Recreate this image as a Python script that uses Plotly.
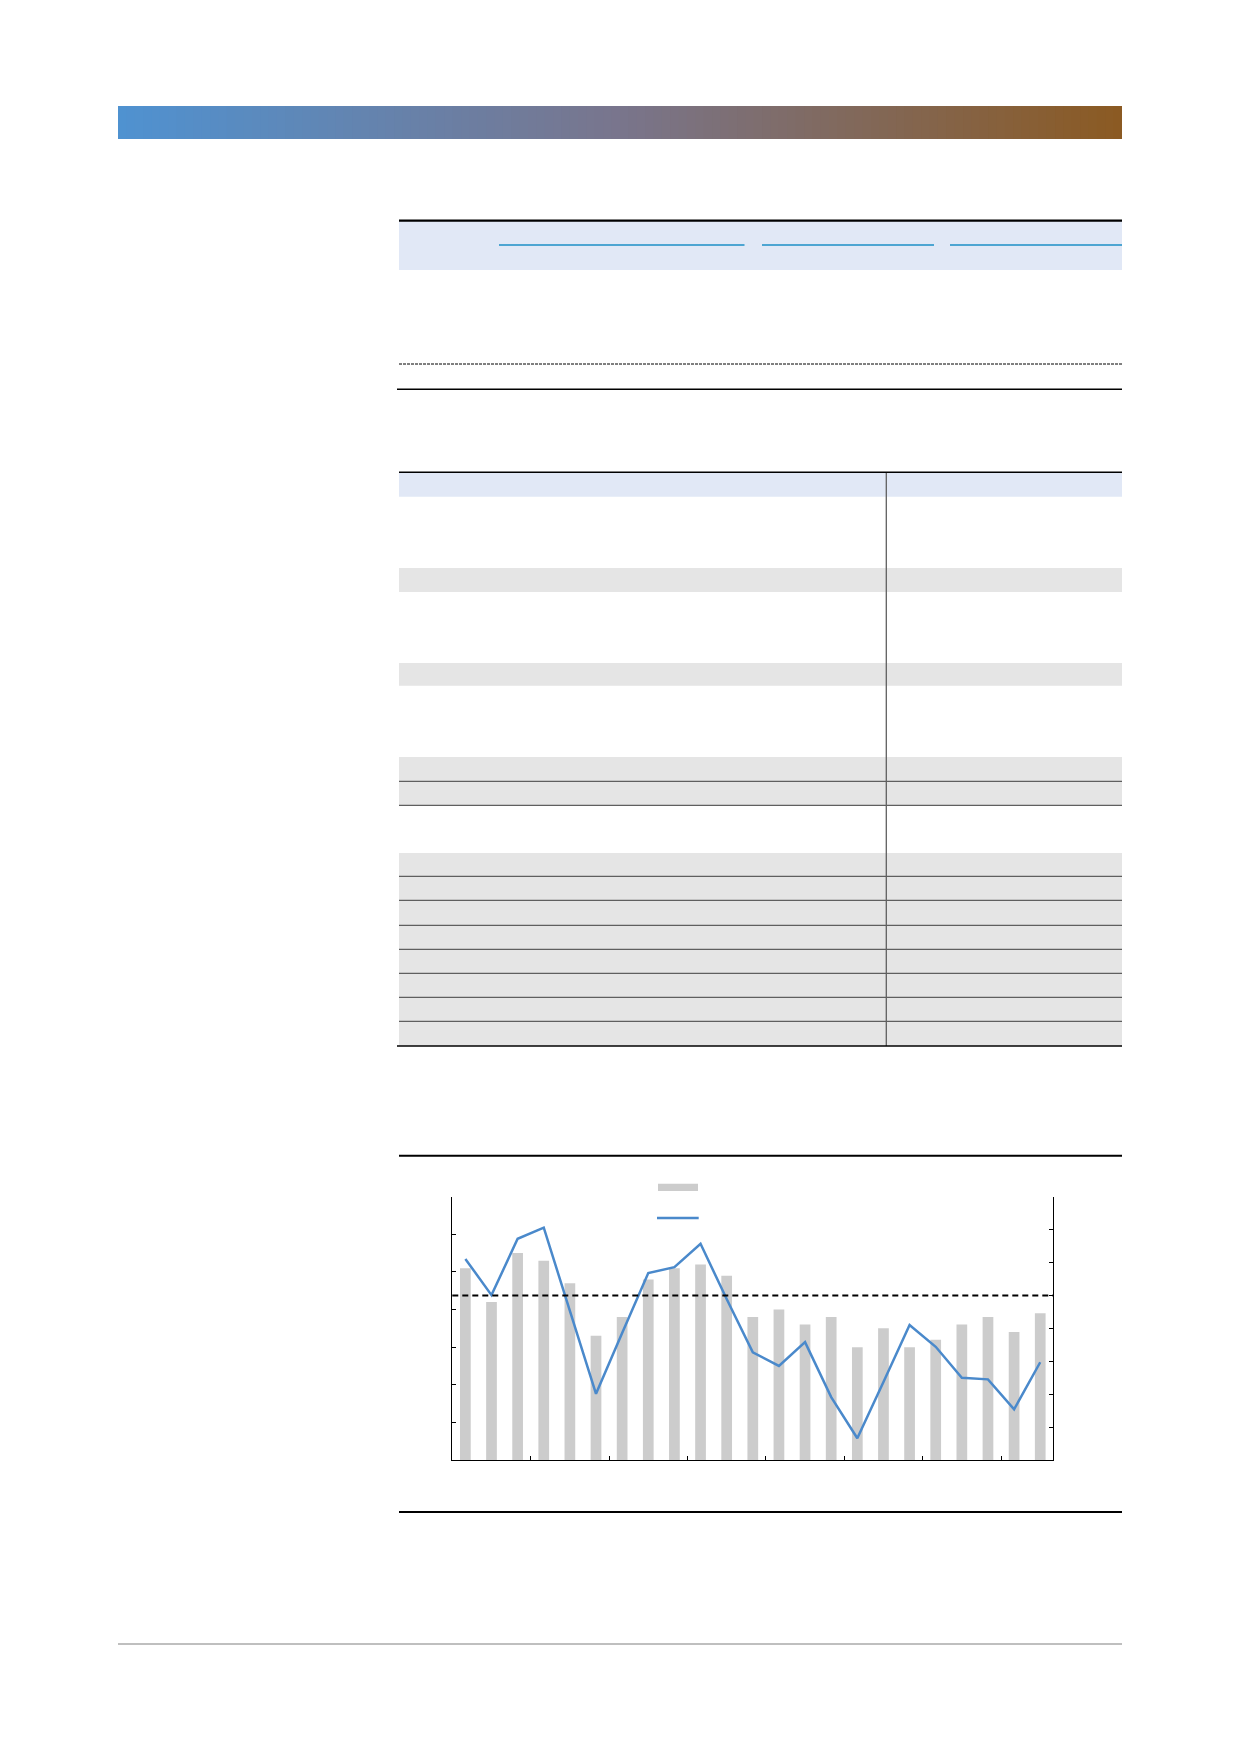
"""
Report page mock-up: two blank tables and a bar + line chart (dual axis).
"""

import plotly.graph_objects as go

# ---- chart data ----
periods = ['P01', 'P02', 'P03', 'P04', 'P05', 'P06', 'P07', 'P08', 'P09', 'P10', 'P11', 'P12',
           'P13', 'P14', 'P15', 'P16', 'P17', 'P18', 'P19', 'P20', 'P21', 'P22', 'P23']
bar_values = [51, 42, 55, 53, 47, 33, 38, 48, 51, 52, 49, 38,
              40, 36, 38, 30, 35, 30, 32, 36, 38, 34, 39]
line_values = [11.1, 0.1, 17.2, 20.6, -4.7, -29.9, -11.4, 6.8, 8.6, 15.7, -1.1, -17.3,
               -21.4, -14.2, -30.9, -43.4, -26.3, -9.0, -15.6, -25.0, -25.5, -34.6, -20.3]
reference_level = 0
left_range = [0, 70]
right_range = [-50, 30]

# ---- page geometry (pixels) ----
W, H = 1240, 1754
OFF = 8  # the page body adds an 8px margin around the plot div


def px(x):
    return (x - OFF) / W


def py(y):
    return 1 - (y - OFF) / H


shapes = []


def rect(x0, y0, x1, y1, color):
    shapes.append(dict(type='rect', xref='paper', yref='paper',
                       x0=px(x0), x1=px(x1), y0=py(y0), y1=py(y1),
                       fillcolor=color, line=dict(width=0), layer='below'))


def hline(x0, x1, y, color='black', width=1, dash='solid'):
    shapes.append(dict(type='line', xref='paper', yref='paper',
                       x0=px(x0), x1=px(x1), y0=py(y), y1=py(y),
                       line=dict(color=color, width=width, dash=dash)))


def vline(x, y0, y1, color='black', width=1):
    shapes.append(dict(type='line', xref='paper', yref='paper',
                       x0=px(x), x1=px(x), y0=py(y0), y1=py(y1),
                       line=dict(color=color, width=width)))


# header gradient band
stops = [(0.0, (79, 146, 209)), (0.5, (121, 117, 140)), (1.0, (139, 90, 34))]
n_slices = 120
gx0, gx1 = 118, 1122
for i in range(n_slices):
    t = (i + 0.5) / n_slices
    for (a, ca), (b, cb) in zip(stops[:-1], stops[1:]):
        if a <= t <= b:
            f = (t - a) / (b - a)
            c = tuple(round(ca[k] + (cb[k] - ca[k]) * f) for k in range(3))
            break
    xa = gx0 + (gx1 - gx0) * i / n_slices
    xb = min(gx1, gx0 + (gx1 - gx0) * (i + 1) / n_slices + 3)
    rect(xa, 106, xb, 139, 'rgb(%d,%d,%d)' % c)

HEAD_BLUE = '#E1E8F6'
ROW_GREY = '#E5E5E5'
RULE_GREY = '#5F5F5F'

# table 1
rect(399, 221, 1122, 270, HEAD_BLUE)
hline(399, 1122, 220.7, width=2.2)
for xa, xb in [(499, 744.5), (762, 934), (950, 1122)]:
    hline(xa, xb, 245, color='#1B8FC6', width=1.4)
hline(399, 1122, 364, width=1, dash='3px,1px')
hline(397, 1122, 389.3, width=1.4)

# table 2
rect(399, 473, 1122, 496.7, HEAD_BLUE)
for ya, yb in [(568, 592), (663, 685.7), (757, 805.3), (853, 1046)]:
    rect(399, ya, 1122, yb, ROW_GREY)
for y in [781.3, 805.3, 876.3, 900.3, 925.3, 949.3, 973.3, 997.3, 1021.3]:
    hline(399, 1122, y, color=RULE_GREY, width=1.2)
vline(886.3, 473, 1046, color=RULE_GREY, width=1.3)
hline(399, 1122, 472.3, width=1.4)
hline(397, 1122, 1046, width=1.6)

# chart frame rules
hline(399, 1122, 1155.7, width=2)
hline(399, 1122, 1512, width=2)

# legend swatches
rect(658, 1183.7, 698, 1191, '#CCCCCC')
hline(657, 698.7, 1218, color='#4A89CB', width=2.5)

# footer rule
hline(118, 1122, 1644, color='#808080', width=1.2)

# reference (dashed) level on the right axis
shapes.append(dict(type='line', xref='x domain', yref='y2', x0=0, x1=1,
                   y0=reference_level, y1=reference_level,
                   line=dict(color='black', width=2, dash='6px,4px')))

x_pos = list(range(len(periods)))

fig = go.Figure()
fig.add_trace(go.Bar(x=x_pos, y=bar_values, marker=dict(color='#CCCCCC', line=dict(width=0)),
                     hovertext=periods, showlegend=False))
fig.add_trace(go.Scatter(x=x_pos, y=line_values, yaxis='y2', mode='lines',
                         line=dict(color='#4A89CB', width=2.5),
                         hovertext=periods, showlegend=False))

fig.update_layout(
    width=W, height=H,
    margin=dict(l=0, r=0, t=0, b=0),
    paper_bgcolor='white', plot_bgcolor='rgba(0,0,0,0)',
    bargap=0.59,
    shapes=shapes,
    xaxis=dict(domain=[px(452.3), px(1053.3)], anchor='y',
               range=[-0.5, len(periods) - 0.5],
               tickvals=[2.5, 5.5, 8.5, 11.5, 14.5, 17.5, 20.5],
               ticks='inside', ticklen=4, tickcolor='black',
               showticklabels=False, showgrid=False, zeroline=False,
               showline=True, linecolor='black', linewidth=1),
    yaxis=dict(domain=[py(1460), py(1196.7)], range=left_range, dtick=10,
               ticks='inside', ticklen=4, tickcolor='black',
               showticklabels=False, showgrid=False, zeroline=False,
               showline=True, linecolor='black', linewidth=1),
    yaxis2=dict(overlaying='y', side='right', range=right_range, dtick=10,
                ticks='inside', ticklen=4, tickcolor='black',
                showticklabels=False, showgrid=False, zeroline=False,
                showline=True, linecolor='black', linewidth=1),
)

fig.write_html("out.html")
